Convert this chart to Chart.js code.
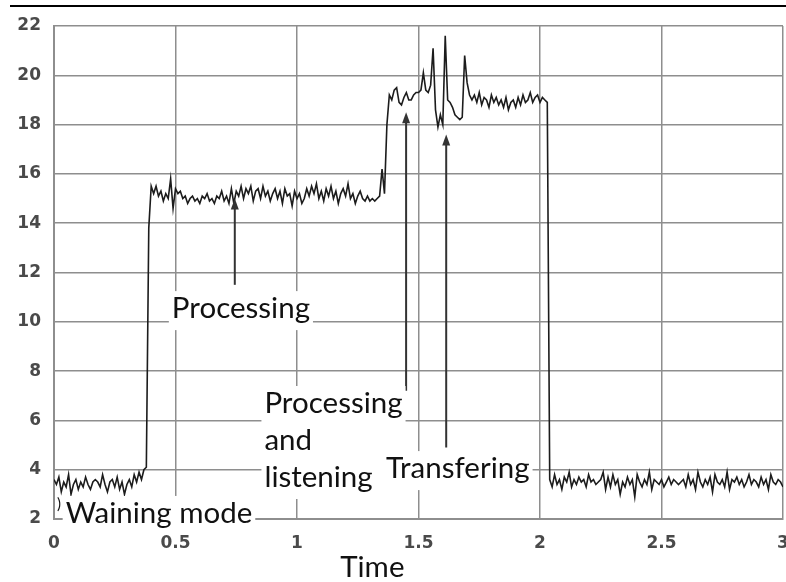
<!DOCTYPE html>
<html>
<head>
<meta charset="utf-8">
<script src="https://cdn.jsdelivr.net/npm/chart.js@4.4.0/dist/chart.umd.min.js"></script>
<style>
html, body { margin: 0; padding: 0; background: #fff; }
</style>
</head>
<body>
<canvas id="chart1" width="786" height="582"></canvas>
<script>
// tick labels
let xTicks = [0, 0.5, 1, 1.5, 2, 2.5, 3];
let yTicks = [2, 4, 6, 8, 10, 12, 14, 16, 18, 20, 22];

// sampled every 0.01 time units, from 0 to 3
let sampleStep = 0.01;

// waiting mode, 0.00 - 0.37
let waiting = [
  3.6,3.4,3.7,3.1,3.5,3.3,3.8,3.0,3.4,3.6,
  3.2,3.5,3.3,3.7,3.4,3.2,3.5,3.6,3.5,3.3,
  3.8,3.4,3.1,3.5,3.6,3.3,3.7,3.2,3.5,3.0,
  3.4,3.6,3.3,3.8,3.5,3.9,3.6,4.0
];
// rise + processing, 0.38 - 1.34
let processing = [
  4.1,13.8,15.5,
  15.2,15.5,15.1,15.3,14.9,15.2,15.0,15.8,14.6,15.4,
  15.2,15.3,15.0,15.1,14.8,15.0,15.1,14.9,15.0,14.8,
  15.1,15.0,15.2,14.9,15.0,14.8,15.1,15.0,15.3,14.9,
  15.1,14.8,15.4,14.8,15.3,15.1,15.5,15.0,15.4,15.2,
  15.5,14.9,15.3,15.4,15.0,15.5,15.1,15.3,14.9,15.2,
  15.4,15.0,15.3,14.8,15.4,15.1,15.2,14.7,15.3,15.0,
  15.2,14.8,15.0,15.4,15.1,15.5,15.2,15.6,15.0,15.3,
  14.9,15.4,15.1,15.5,15.0,15.3,14.8,15.2,15.4,15.1,
  15.6,15.0,15.2,14.8,15.1,15.3,15.0,14.9,15.1,14.9,
  15.0,14.9,15.0,15.1
];
// processing and listening + transfering, 1.35 - 2.04
let transfering = [
  16.2,15.2,18.0,19.2,19.0,19.4,19.5,18.9,18.8,19.1,
  19.3,19.0,19.0,19.2,19.3,19.3,19.4,20.1,19.4,19.3,
  19.6,21.1,18.6,17.9,18.4,18.0,21.6,19.0,18.9,18.7,
  18.4,18.3,18.2,18.3,20.8,19.7,19.2,19.0,19.2,18.9,
  19.3,18.8,19.1,19.0,18.7,19.2,18.9,19.1,18.8,19.0,
  18.7,19.1,18.6,18.9,19.0,18.7,19.1,18.8,19.2,18.9,
  19.0,19.3,18.9,19.1,19.2,18.9,19.1,19.0,18.9,3.6
];
// back to waiting, 2.05 - 3.00
let tail = [
  3.3,3.8,3.4,3.6,3.2,3.7,3.5,3.9,3.3,3.6,
  3.4,3.7,3.5,3.6,3.3,3.8,3.5,3.6,3.4,3.5,
  3.6,3.9,3.2,3.7,3.3,3.8,3.4,3.6,3.0,3.5,
  3.3,3.7,3.4,3.6,2.9,3.8,3.5,3.3,3.6,3.4,
  3.9,3.2,3.6,3.5,3.4,3.6,3.3,3.5,3.7,3.4,
  3.6,3.5,3.4,3.5,3.6,3.3,3.8,3.4,3.6,3.2,
  3.9,3.5,3.3,3.6,3.4,3.7,3.1,3.8,3.5,3.4,
  3.6,3.3,3.9,3.2,3.6,3.5,3.7,3.4,3.6,3.3,
  3.5,3.8,3.4,3.6,3.5,3.3,3.7,3.4,3.6,3.2,
  3.8,3.5,3.4,3.6,3.5,3.3
];

let power = waiting.concat(processing, transfering, tail);
let points = [];
for (let i = 0; i < power.length; i++) {
  points.push({x: +(i * sampleStep).toFixed(2), y: power[i]});
}

// text labels and arrows, in data coordinates
let notes = [
  {lines: ['Processing'], x: 0.485, y: 10.15},
  {lines: ['Processing', 'and', 'listening'], x: 0.866, y: 6.3},
  {lines: ['Transfering'], x: 1.366, y: 3.66},
  {lines: ['Waining mode'], x: 0.048, y: 1.84}
];
let arrows = [
  {x: 0.744, from: 11.5, to: 15.0},
  {x: 1.449, from: 7.2, to: 18.5},
  {x: 1.614, from: 4.9, to: 17.6}
];

let noteFont = '29.5px Lato';
let lineGap = 37;

function arrowUp(ctx, x, y0, y1) {
  ctx.beginPath();
  ctx.moveTo(x, y0);
  ctx.lineTo(x, y1 + 8);
  ctx.stroke();
  ctx.beginPath();
  ctx.moveTo(x, y1);
  ctx.lineTo(x - 4, y1 + 11);
  ctx.lineTo(x + 4, y1 + 11);
  ctx.closePath();
  ctx.fill();
}

let notesPlugin = {
  id: 'notes',
  beforeDraw(chart) {
    let ctx = chart.ctx;
    ctx.save();
    ctx.strokeStyle = '#000';
    ctx.lineWidth = 2;
    ctx.beginPath();
    ctx.moveTo(10, 6);
    ctx.lineTo(chart.width, 6);
    ctx.stroke();
    ctx.restore();
  },
  afterDatasetsDraw(chart) {
    let ctx = chart.ctx;
    let xs = chart.scales.x, ys = chart.scales.y;
    ctx.save();
    ctx.strokeStyle = '#333';
    ctx.fillStyle = '#333';
    ctx.lineWidth = 2;
    arrows.forEach(a => {
      arrowUp(ctx, xs.getPixelForValue(a.x), ys.getPixelForValue(a.from), ys.getPixelForValue(a.to));
    });
    ctx.font = noteFont;
    ctx.textBaseline = 'alphabetic';
    notes.forEach(n => {
      let px = xs.getPixelForValue(n.x);
      let py = ys.getPixelForValue(n.y);
      let w = Math.max(...n.lines.map(l => ctx.measureText(l).width));
      let top = py - 27;
      let bottom = py + (n.lines.length - 1) * lineGap + 12;
      ctx.fillStyle = '#fff';
      ctx.fillRect(px - 3, top, w + 6, bottom - top);
      ctx.fillStyle = '#111';
      n.lines.forEach((l, i) => ctx.fillText(l, px, py + i * lineGap));
    });
    ctx.font = '15px Lato';
    ctx.fillText(')', 57, 509);
    ctx.font = noteFont;
    ctx.textAlign = 'center';
    ctx.fillText('Time', xs.getPixelForValue(1.31), 577);
    ctx.restore();
  }
};

let gridColor = '#8e8e8e';
let tickFont = {family: 'DejaVu Sans', size: 17, weight: 'bold'};

let chart1 = new Chart(document.getElementById('chart1'), {
  type: 'line',
  data: {
    datasets: [{
      data: points,
      borderColor: '#1c1c1c',
      borderWidth: 1.6,
      pointRadius: 0,
      tension: 0,
      fill: false
    }]
  },
  options: {
    responsive: false,
    animation: false,
    layout: {padding: {top: 26, right: 3, left: 0, bottom: 0}},
    plugins: {legend: {display: false}, tooltip: {enabled: false}},
    scales: {
      x: {
        type: 'linear',
        min: 0,
        max: 3,
        afterBuildTicks: axis => { axis.ticks = xTicks.map(v => ({value: v})); },
        afterFit: s => { s.height = 63; s.paddingLeft = 0; s.paddingRight = 0; },
        grid: {color: gridColor, lineWidth: 1.5, drawTicks: false},
        border: {color: gridColor, width: 2},
        ticks: {font: tickFont, color: '#4a4a4a', padding: 14, maxRotation: 0,
                callback: v => String(v)}
      },
      y: {
        min: 2,
        max: 22,
        afterBuildTicks: axis => { axis.ticks = yTicks.map(v => ({value: v})); },
        afterFit: s => { s.width = 54; s.paddingTop = 0; s.paddingBottom = 0; },
        grid: {color: gridColor, lineWidth: 1.5, drawTicks: false},
        border: {color: gridColor, width: 2},
        ticks: {font: tickFont, color: '#4a4a4a', padding: 13}
      }
    }
  },
  plugins: [notesPlugin]
});
</script>
</body>
</html>
